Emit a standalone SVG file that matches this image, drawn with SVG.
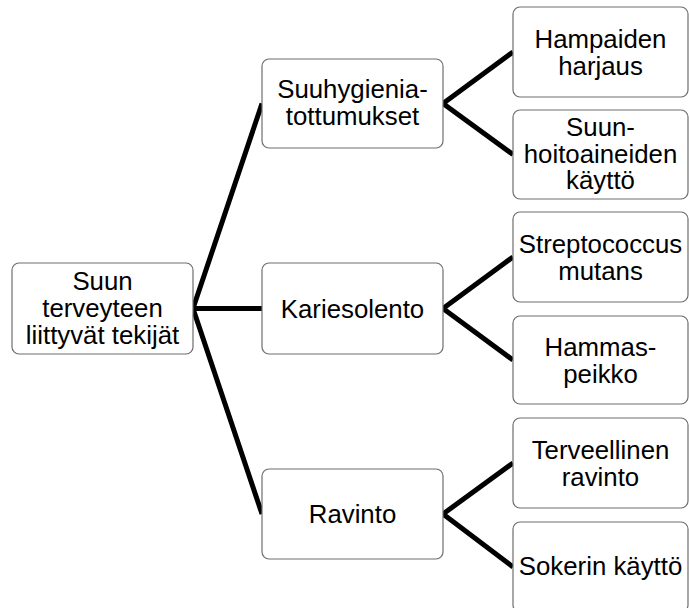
<svg xmlns="http://www.w3.org/2000/svg" width="689" height="608" viewBox="0 0 689 608">
<style>
.box{fill:#ffffff;stroke:#6e6e6e;stroke-width:1.2}
.t{font-family:"Liberation Sans",Arial,sans-serif;font-size:25.8px;fill:#000;text-anchor:middle}
.c{stroke:#000;stroke-width:5;fill:none;stroke-linecap:butt}
</style>
<rect width="689" height="608" fill="#ffffff"/>
<g id="connectors">
<path class="c" d="M193,308.5 L262,103.5 M193,308.5 L262,308.5 M193,308.5 L262,514"/>
<path class="c" d="M443,103.5 L513,52 M443,103.5 L513,154.5"/>
<path class="c" d="M443,308.5 L513,257 M443,308.5 L513,360"/>
<path class="c" d="M443,514 L513,463 M443,514 L513,567"/>
</g>
<g id="root">
<rect class="box" x="12" y="263" width="181" height="91" rx="7"/>
<text class="t" x="102.5" y="290">Suun</text>
<text class="t" x="102.5" y="317">terveyteen</text>
<text class="t" x="102.5" y="344">liittyvät tekijät</text>
</g>
<g id="suuhygienia">
<rect class="box" x="262" y="59" width="181" height="89" rx="7"/>
<text class="t" x="352.5" y="98">Suuhygienia-</text>
<text class="t" x="352.5" y="124.5">tottumukset</text>
</g>
<g id="kariesolento">
<rect class="box" x="262" y="263" width="181" height="91" rx="7"/>
<text class="t" x="352.5" y="317.5">Kariesolento</text>
</g>
<g id="ravinto">
<rect class="box" x="262" y="469" width="181" height="90" rx="7"/>
<text class="t" x="352.5" y="523">Ravinto</text>
</g>
<g id="hampaiden">
<rect class="box" x="513" y="7" width="175" height="90" rx="7"/>
<text class="t" x="600.5" y="48">Hampaiden</text>
<text class="t" x="600.5" y="74.5">harjaus</text>
</g>
<g id="suunhoito">
<rect class="box" x="513" y="110" width="175" height="89" rx="7"/>
<text class="t" x="600.5" y="136">Suun-</text>
<text class="t" x="600.5" y="162.5">hoitoaineiden</text>
<text class="t" x="600.5" y="189">käyttö</text>
</g>
<g id="streptococcus">
<rect class="box" x="513" y="212" width="175" height="90" rx="7"/>
<text class="t" x="600.5" y="253">Streptococcus</text>
<text class="t" x="600.5" y="279.5">mutans</text>
</g>
<g id="hammaspeikko">
<rect class="box" x="513" y="316" width="175" height="88" rx="7"/>
<text class="t" x="600.5" y="356">Hammas-</text>
<text class="t" x="600.5" y="382.5">peikko</text>
</g>
<g id="terveellinen">
<rect class="box" x="513" y="418" width="175" height="90" rx="7"/>
<text class="t" x="600.5" y="459">Terveellinen</text>
<text class="t" x="600.5" y="485.5">ravinto</text>
</g>
<g id="sokerin">
<rect class="box" x="513" y="522" width="175" height="90" rx="7"/>
<text class="t" x="600.5" y="575">Sokerin käyttö</text>
</g>
</svg>
